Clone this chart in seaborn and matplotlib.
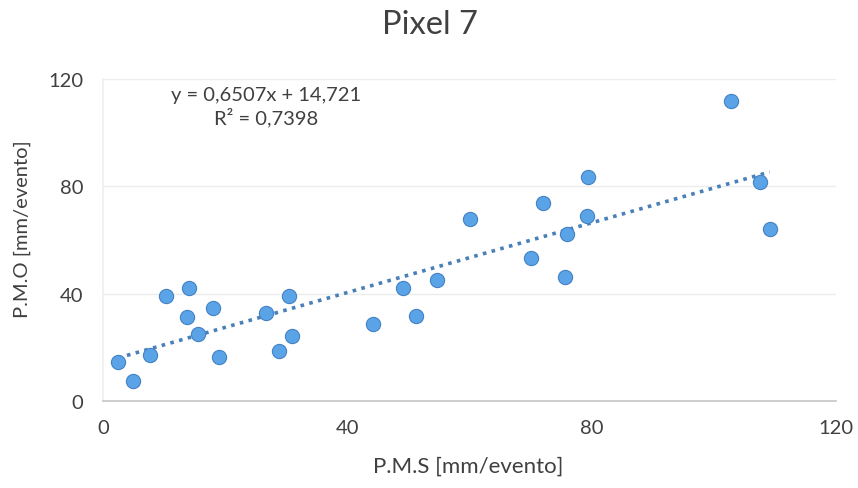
import matplotlib
matplotlib.use("Agg")
import matplotlib.pyplot as plt
import seaborn as sns
import numpy as np
import pandas as pd

pms = [2.50, 4.86, 7.74, 10.31, 14.08, 13.75, 15.55, 17.96, 18.99, 26.74, 28.77, 30.50, 30.94,
       44.16, 49.07, 51.20, 54.63, 60.09, 70.07, 71.99, 75.69, 75.97, 79.35, 79.19, 102.77, 107.51, 109.15]
pmo = [14.65, 7.57, 17.26, 39.25, 42.0, 31.42, 24.86, 34.77, 16.51, 32.91, 18.64, 39.25, 24.34,
       28.70, 42.0, 31.79, 45.21, 67.83, 53.30, 73.69, 46.11, 62.36, 83.38, 69.06, 111.93, 81.51, 64.0]
xticks = [0, 40, 80, 120]
yticks = [0, 40, 80, 120]
title = "Pixel 7"
xlabel = "P.M.S [mm/evento]"
ylabel = "P.M.O [mm/evento]"
eq_text = "y = 0,6507x + 14,721\nR² = 0,7398"

df = pd.DataFrame({"pms": pms, "pmo": pmo})

sns.set_theme(style="white")
plt.rcParams["font.family"] = ["Lato", "DejaVu Sans"]

W, H = 858, 489
fig = plt.figure(figsize=(W / 100, H / 100), dpi=100)
L, R, T, B = 103, 836, 80, 402
ax = fig.add_axes([L / W, 1 - B / H, (R - L) / W, (B - T) / H])

sns.regplot(data=df, x="pms", y="pmo", ax=ax, ci=None, truncate=True,
            scatter_kws=dict(s=105, color="#5aa3e6", edgecolor="#4482c4", linewidths=0.8, alpha=1, zorder=3),
            line_kws=dict(color="#4a80b8", linestyle=(0, (1, 1.5)), linewidth=2.6, zorder=2))

ax.set_xlim(0, 120)
ax.set_ylim(0, 120)
ax.set_xticks(xticks)
ax.set_yticks(yticks)
ax.tick_params(axis="both", labelsize=14.5, colors="#404040", length=0)
ax.tick_params(axis="x", pad=13)
ax.tick_params(axis="y", pad=14)
ax.yaxis.grid(True, color="#ececec", linewidth=1)
ax.xaxis.grid(False)
for s in ["top", "right"]:
    ax.spines[s].set_visible(False)
ax.spines["left"].set_color("#f0f0f0")
ax.spines["bottom"].set_color("#c8c8c8")

ax.set_xlabel(xlabel, fontsize=16, color="#404040")
ax.set_ylabel(ylabel, fontsize=14.5, color="#404040")
ax.xaxis.label.set_va("center")
ax.yaxis.label.set_va("center")
ax.xaxis.set_label_coords((468 - L) / (R - L), (B - 467) / (B - T))
ax.yaxis.set_label_coords((22 - L) / (R - L), (B - 229) / (B - T))

fig.text(429.5 / W, 1 - 25 / H, title, ha="center", va="center", fontsize=23.5, color="#404040")
ax.text((266 - L) / (R - L) * 120, (B - 107) / (B - T) * 120, eq_text, ha="center", va="center",
        fontsize=14.5, color="#404040", linespacing=1.2)

fig.savefig("out.png", dpi=100)
